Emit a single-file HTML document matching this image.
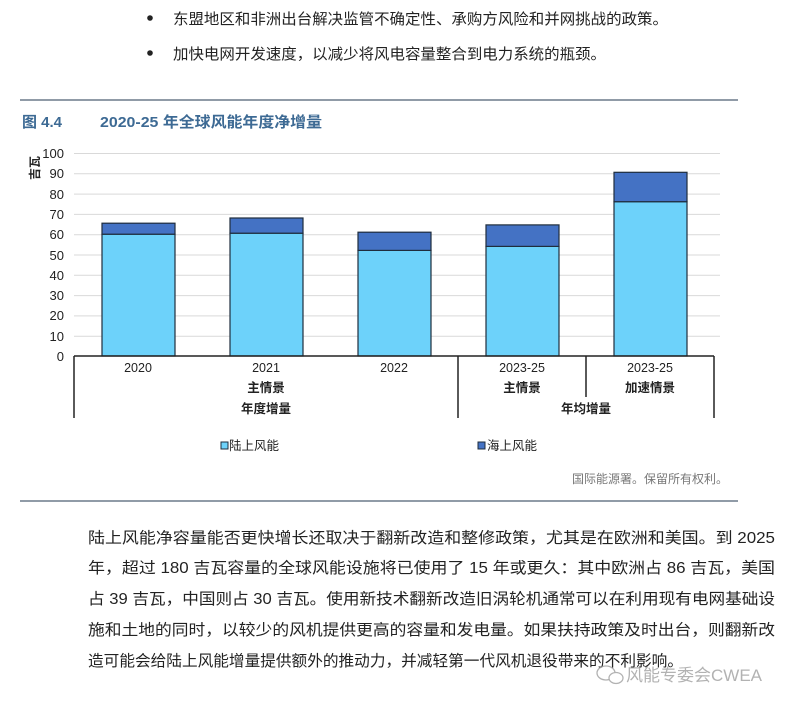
<!DOCTYPE html>
<html><head><meta charset="utf-8"><style>
body{margin:0;background:#fff;}
svg{display:block;font-family:"Liberation Sans","Noto Sans CJK SC",sans-serif;}
</style></head><body>
<svg width="800" height="707" viewBox="0 0 800 707" xmlns="http://www.w3.org/2000/svg">
<rect width="800" height="707" fill="#fff"/>
<circle cx="150" cy="18" r="2.8" fill="#222"/>
<circle cx="150" cy="53" r="2.8" fill="#222"/>
<text x="173" y="24" font-size="15" fill="#222" textLength="495" lengthAdjust="spacingAndGlyphs">东盟地区和非洲出台解决监管不确定性、承购方风险和并网挑战的政策。</text>
<text x="173" y="59" font-size="15" fill="#222" textLength="433" lengthAdjust="spacingAndGlyphs">加快电网开发速度，以减少将风电容量整合到电力系统的瓶颈。</text>
<line x1="20" y1="100" x2="738" y2="100" stroke="#6b7a8a" stroke-width="1.5"/>
<text x="22" y="127" font-size="15" fill="#3d6a94" font-weight="bold">图 4.4</text>
<text x="100" y="127" font-size="15" fill="#3d6a94" font-weight="bold" textLength="222" lengthAdjust="spacingAndGlyphs">2020-25 年全球风能年度净增量</text>
<text transform="translate(39,180) rotate(-90)" font-size="12" font-weight="bold" fill="#222">吉瓦</text>
<g stroke="#d9d9d9" stroke-width="1">
<line x1="74" y1="153.5" x2="720" y2="153.5"/><line x1="74" y1="173.8" x2="720" y2="173.8"/>
<line x1="74" y1="194.1" x2="720" y2="194.1"/><line x1="74" y1="214.4" x2="720" y2="214.4"/>
<line x1="74" y1="234.7" x2="720" y2="234.7"/><line x1="74" y1="255" x2="720" y2="255"/>
<line x1="74" y1="275.3" x2="720" y2="275.3"/><line x1="74" y1="295.6" x2="720" y2="295.6"/>
<line x1="74" y1="315.9" x2="720" y2="315.9"/><line x1="74" y1="336.2" x2="720" y2="336.2"/>
</g>
<g font-size="13" fill="#222" text-anchor="end">
<text x="64" y="158">100</text><text x="64" y="178">90</text><text x="64" y="199">80</text>
<text x="64" y="219">70</text><text x="64" y="239">60</text><text x="64" y="260">50</text>
<text x="64" y="280">40</text><text x="64" y="300">30</text><text x="64" y="320">20</text>
<text x="64" y="341">10</text><text x="64" y="361">0</text>
</g>
<g stroke="#1f2d3d" stroke-width="1.2">
<rect x="102" y="234.2" width="73" height="121.8" fill="#6dd2fa"/>
<rect x="102" y="223.2" width="73" height="11" fill="#4472c4"/>
<rect x="230" y="233.2" width="73" height="122.8" fill="#6dd2fa"/>
<rect x="230" y="218" width="73" height="15.2" fill="#4472c4"/>
<rect x="358" y="250.4" width="73" height="105.6" fill="#6dd2fa"/>
<rect x="358" y="232.2" width="73" height="18.2" fill="#4472c4"/>
<rect x="486" y="246.4" width="73" height="109.6" fill="#6dd2fa"/>
<rect x="486" y="224.9" width="73" height="21.5" fill="#4472c4"/>
<rect x="614" y="201.7" width="73" height="154.3" fill="#6dd2fa"/>
<rect x="614" y="172.3" width="73" height="29.4" fill="#4472c4"/>
</g>
<g stroke="#222" stroke-width="1.5" fill="none">
<line x1="74" y1="356" x2="714" y2="356"/>
<line x1="74" y1="356" x2="74" y2="418"/>
<line x1="458" y1="356" x2="458" y2="418"/>
<line x1="586" y1="356" x2="586" y2="397"/>
<line x1="714" y1="356" x2="714" y2="418"/>
</g>
<g font-size="12.5" fill="#222" text-anchor="middle">
<text x="138" y="372">2020</text><text x="266" y="372">2021</text><text x="394" y="372">2022</text>
<text x="522" y="372">2023-25</text><text x="650" y="372">2023-25</text>
<text x="266" y="392" font-weight="bold">主情景</text>
<text x="522" y="392" font-weight="bold">主情景</text>
<text x="650" y="392" font-weight="bold">加速情景</text>
<text x="266" y="413" font-weight="bold">年度增量</text>
<text x="586" y="413" font-weight="bold">年均增量</text>
</g>
<rect x="221" y="442" width="7" height="7" fill="#6dd2fa" stroke="#1f2d3d"/>
<text x="229" y="450" font-size="12.5" fill="#222">陆上风能</text>
<rect x="478" y="442" width="7" height="7" fill="#4472c4" stroke="#1f2d3d"/>
<text x="487" y="450" font-size="12.5" fill="#222">海上风能</text>
<text x="728" y="483" font-size="12" fill="#777" text-anchor="end">国际能源署。保留所有权利。</text>
<line x1="20" y1="501" x2="738" y2="501" stroke="#6b7a8a" stroke-width="1.5"/>
<g font-size="15.5" fill="#222">
<text x="88" y="543" textLength="687" lengthAdjust="spacingAndGlyphs">陆上风能净容量能否更快增长还取决于翻新改造和整修政策，尤其是在欧洲和美国。到 2025</text>
<text x="88" y="573" textLength="687" lengthAdjust="spacingAndGlyphs">年，超过 180 吉瓦容量的全球风能设施将已使用了 15 年或更久：其中欧洲占 86 吉瓦，美国</text>
<text x="88" y="604" textLength="687" lengthAdjust="spacingAndGlyphs">占 39 吉瓦，中国则占 30 吉瓦。使用新技术翻新改造旧涡轮机通常可以在利用现有电网基础设</text>
<text x="88" y="635" textLength="687" lengthAdjust="spacingAndGlyphs">施和土地的同时，以较少的风机提供更高的容量和发电量。如果扶持政策及时出台，则翻新改</text>
<text x="88" y="666" textLength="595" lengthAdjust="spacingAndGlyphs">造可能会给陆上风能增量提供额外的推动力，并减轻第一代风机退役带来的不利影响。</text>
</g>
<g opacity="0.75">
<ellipse cx="606" cy="673" rx="9" ry="7" fill="none" stroke="#999" stroke-width="1.3"/>
<ellipse cx="616" cy="678" rx="7" ry="5.5" fill="#fff" stroke="#999" stroke-width="1.3"/>
<text x="626" y="681" font-size="17" fill="#999">风能专委会CWEA</text>
</g>
</svg>
</body></html>
